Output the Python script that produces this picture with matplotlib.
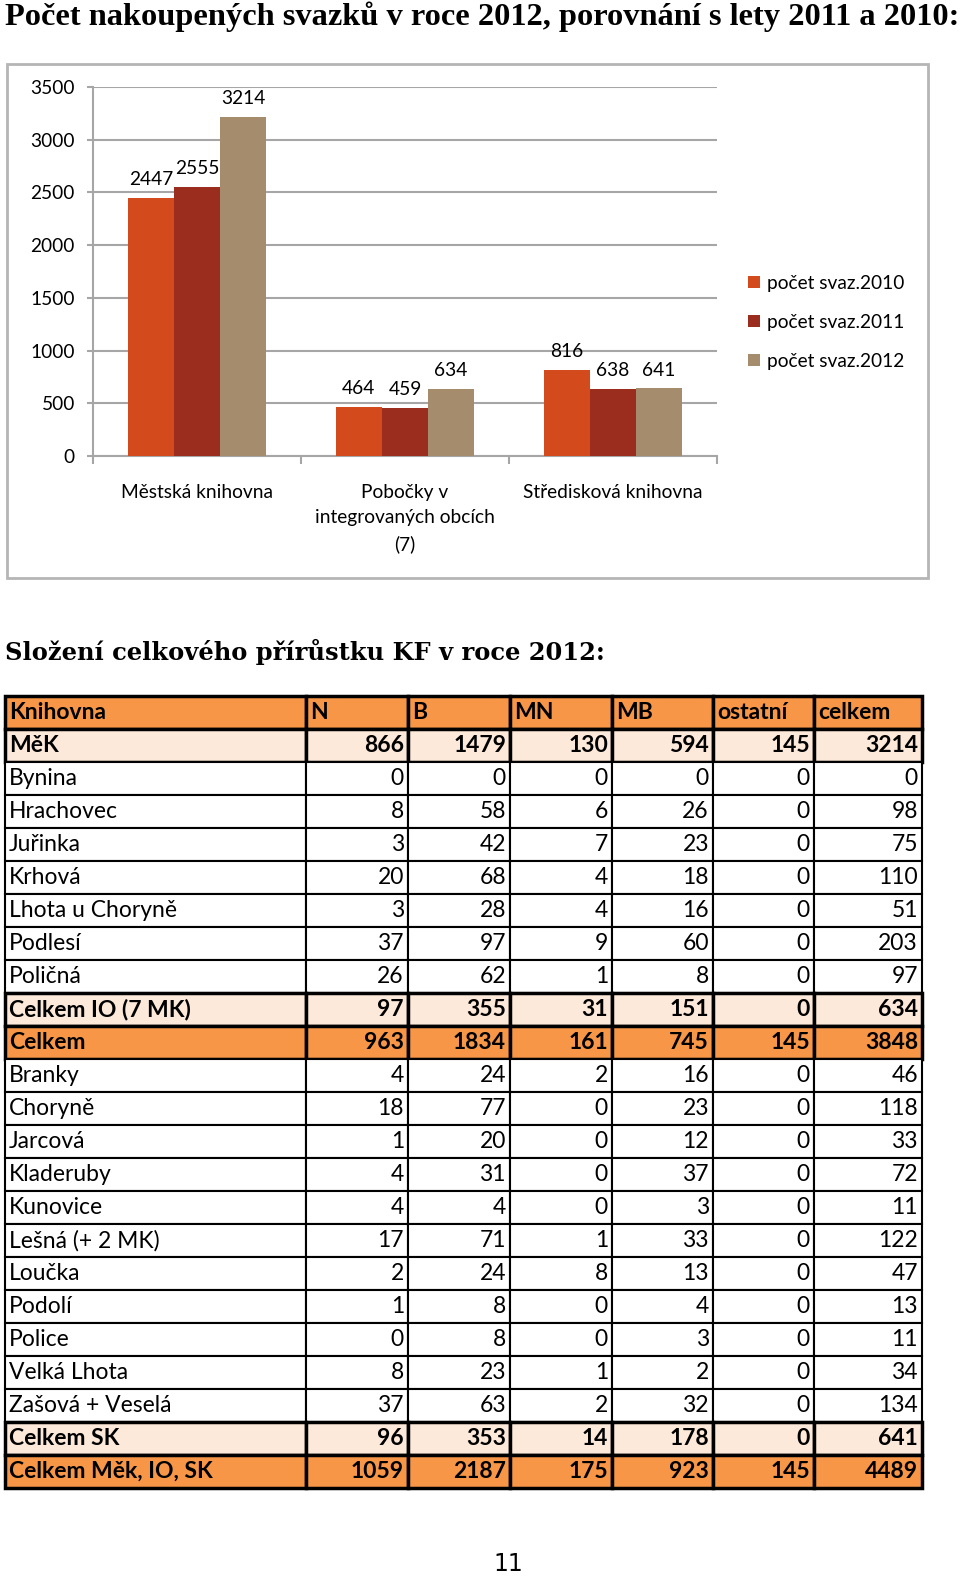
import numpy as np
import matplotlib
matplotlib.use("Agg")
import matplotlib.pyplot as plt
from matplotlib.patches import Rectangle

# --- chart data ---
categories = ["Městská knihovna", "Pobočky v\nintegrovaných obcích\n(7)", "Středisková knihovna"]
svaz_2010 = [2447, 464, 816]
svaz_2011 = [2555, 459, 638]
svaz_2012 = [3214, 634, 641]
series_names = ["počet svaz.2010", "počet svaz.2011", "počet svaz.2012"]
y_ticks = [0, 500, 1000, 1500, 2000, 2500, 3000, 3500]

# --- table data ---
col_names = ["Knihovna", "N", "B", "MN", "MB", "ostatní", "celkem"]
knihovna = ["MěK", "Bynina", "Hrachovec", "Juřinka", "Krhová", "Lhota u Choryně",
            "Podlesí", "Poličná", "Celkem IO (7 MK)", "Celkem", "Branky", "Choryně",
            "Jarcová", "Kladeruby", "Kunovice", "Lešná (+ 2 MK)", "Loučka", "Podolí",
            "Police", "Velká Lhota", "Zašová + Veselá", "Celkem SK", "Celkem Měk, IO, SK"]
n_vals = [866, 0, 8, 3, 20, 3, 37, 26, 97, 963, 4, 18, 1, 4, 4, 17, 2, 1, 0, 8, 37, 96, 1059]
b_vals = [1479, 0, 58, 42, 68, 28, 97, 62, 355, 1834, 24, 77, 20, 31, 4, 71, 24, 8, 8, 23, 63, 353, 2187]
mn_vals = [130, 0, 6, 7, 4, 4, 9, 1, 31, 161, 2, 0, 0, 0, 0, 1, 8, 0, 0, 1, 2, 14, 175]
mb_vals = [594, 0, 26, 23, 18, 16, 60, 8, 151, 745, 16, 23, 12, 37, 3, 33, 13, 4, 3, 2, 32, 178, 923]
ostatni = [145, 0, 0, 0, 0, 0, 0, 0, 0, 145, 0, 0, 0, 0, 0, 0, 0, 0, 0, 0, 0, 0, 145]
celkem = [3214, 0, 98, 75, 110, 51, 203, 97, 634, 3848, 46, 118, 33, 72, 11, 122, 47, 13, 11, 34, 134, 641, 4489]

# styling
colors = ["#d34b1c", "#9b2d1f", "#a58c6c"]
orange = "#f79646"
light = "#fde9d9"
strong_rows = ["Celkem", "Celkem Měk, IO, SK"]
light_rows = ["MěK", "Celkem IO (7 MK)", "Celkem SK"]
fs = 13.8

W, H = 960, 1580
plt.rcParams['font.family'] = ['Lato', 'DejaVu Sans']


def box(left, top, right, bottom):
    return [left / W, 1 - bottom / H, (right - left) / W, (bottom - top) / H]


fig = plt.figure(figsize=(W / 100, H / 100), dpi=100)

fig.text(5 / W, 1 - 17 / H, "Počet nakoupených svazků v roce 2012, porovnání s lety 2011 a 2010:",
         fontsize=23.3, fontweight='bold', family='Liberation Serif', va='center', ha='left')

# chart frame
fig.add_artist(Rectangle((7 / W, 1 - 578 / H), 921 / W, 514 / H, transform=fig.transFigure,
                         fill=False, edgecolor='#b5b5b5', linewidth=2))

ax = fig.add_axes(box(93, 87, 717, 456))
x = np.arange(len(categories))
bw = 0.222
for i, (vals, c, name) in enumerate(zip([svaz_2010, svaz_2011, svaz_2012], colors, series_names)):
    bars = ax.bar(x + (i - 1) * bw, vals, bw, color=c, label=name, zorder=3)
    ax.bar_label(bars, padding=7, fontsize=fs)

ax.set_xlim(-0.5, 2.5)
ax.set_ylim(0, 3500)
ax.set_yticks(y_ticks)
ax.set_yticklabels([str(v) for v in y_ticks], fontsize=fs)
ax.grid(axis='y', color='#a6a6a6', linewidth=1.5, zorder=0)
ax.set_xticks([-0.5, 0.5, 1.5, 2.5])
ax.set_xticklabels([])
ax.set_xticks(x, minor=True)
ax.set_xticklabels(categories, minor=True, fontsize=fs, linespacing=1.6, va='top')
ax.tick_params(axis='x', which='major', length=6, color='#a6a6a6', width=1.5)
ax.tick_params(axis='x', which='minor', length=0, pad=20)
ax.tick_params(axis='y', length=4, color='#a6a6a6', width=1.5, pad=9)
for s in ['top', 'right']:
    ax.spines[s].set_visible(False)
for s in ['left', 'bottom']:
    ax.spines[s].set_color('#a6a6a6')
    ax.spines[s].set_linewidth(1.5)

ax.legend(loc='upper left', bbox_to_anchor=(748 / W, 1 - 275 / H), bbox_transform=fig.transFigure,
          frameon=False, fontsize=fs, handlelength=0.6, handleheight=0.6,
          handletextpad=0.4, labelspacing=1.15, borderpad=0, borderaxespad=0)

# second heading
fig.text(5 / W, 1 - 652 / H, "Složení celkového přírůstku KF v roce 2012:",
         fontsize=17.4, fontweight='bold', family='DejaVu Serif', va='center', ha='left')

# table
tax = fig.add_axes(box(5, 696, 922, 1488))
tax.axis('off')
cell_text = [col_names]
for row in zip(knihovna, n_vals, b_vals, mn_vals, mb_vals, ostatni, celkem):
    cell_text.append([row[0]] + [str(v) for v in row[1:]])
col_px = [301, 102, 102, 102, 101, 101, 108]
tbl = tax.table(cellText=cell_text, colWidths=[c / sum(col_px) for c in col_px],
                bbox=[0, 0, 1, 1], cellLoc='right')
tbl.auto_set_font_size(False)
tbl.set_fontsize(16.5)
for (r, c), cell in tbl.get_celld().items():
    name = cell_text[r][0]
    cell.set_edgecolor('black')
    t = cell.get_text()
    if r == 0 or name in strong_rows:
        cell.set_facecolor(orange)
        t.set_fontweight('bold')
        cell.set_linewidth(2.5)
    elif name in light_rows:
        cell.set_facecolor(light)
        t.set_fontweight('bold')
        cell.set_linewidth(2.5)
    else:
        cell.set_facecolor('white')
        cell.set_linewidth(1.5)
    if c == 0 or r == 0:
        t.set_horizontalalignment('left')
    cell.PAD = 4 / col_px[c]

fig.text(508 / W, 1 - 1564 / H, "11", fontsize=17, family='Liberation Sans Narrow',
         va='center', ha='center')

fig.savefig("out.png", dpi=100)
